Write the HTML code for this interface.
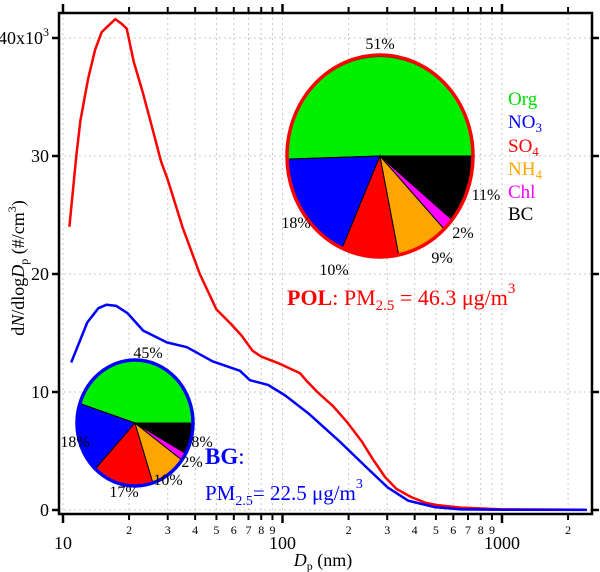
<!DOCTYPE html>
<html><head><meta charset="utf-8"><style>
html,body{margin:0;padding:0;background:#fff}
svg{display:block;font-family:"Liberation Serif",serif}
</style></head><body>
<svg id="chart" width="600" height="572" viewBox="0 0 600 572" xmlns="http://www.w3.org/2000/svg">
<g id="grid"></g>
<g id="series"></g>
<g id="axes"></g>
<g id="pies"></g>
<text transform="translate(24,268) rotate(-90)" text-anchor="middle" font-size="18">d<tspan font-style="italic">N</tspan>/dlog<tspan font-style="italic">D</tspan><tspan font-size="12" dy="4">p</tspan><tspan dy="-4"> (#/cm</tspan><tspan font-size="12" dy="-8">3</tspan><tspan dy="8">)</tspan></text>
<text x="323" y="566" text-anchor="middle" font-size="18"><tspan font-style="italic">D</tspan><tspan font-size="12" dy="4">p</tspan><tspan dy="-4"> (nm)</tspan></text>
<g font-size="19">
<text x="508" y="105" fill="#00e000">Org</text>
<text x="508" y="128" fill="#0000ff">NO<tspan font-size="13" dy="4">3</tspan></text>
<text x="508" y="152" fill="#ff0000">SO<tspan font-size="13" dy="4">4</tspan></text>
<text x="508" y="175" fill="#ffa500">NH<tspan font-size="13" dy="4">4</tspan></text>
<text x="508" y="198" fill="#ff00ff">Chl</text>
<text x="508" y="220" fill="#000">BC</text>
</g>
<text x="287" y="305" font-size="22" fill="#ff0000"><tspan font-weight="bold">POL</tspan>: PM<tspan font-size="15" dy="5">2.5</tspan><tspan dy="-5"> = 46.3 μg/m</tspan><tspan font-size="15" dy="-12">3</tspan></text>
<text x="205" y="464" font-size="23" font-weight="bold" fill="#0000ff">BG<tspan font-weight="normal">:</tspan></text>
<text x="205" y="500" font-size="21" fill="#0000ff">PM<tspan font-size="14" dy="5">2.5</tspan><tspan dy="-5">= 22.5 μg/m</tspan><tspan font-size="14" dy="-12">3</tspan></text>
</svg>
<script>
const redDp = [10.7,11.5,12,13,14,15,16,17.3,18.5,19.5,21,23,25,28,30,35,42,50,58,65,73,80,97,120,128,144,170,198,230,258,293,330,385,450,512,650,1000,2400];
const redN  = [24,30,33,36.5,39,40.5,41,41.6,41.2,40.8,38,35.5,33,29.5,28,24,20,17,15.8,14.8,13.5,13,12.4,11.6,11,10,8.8,7.4,5.8,4.3,2.8,1.8,1.1,0.6,0.4,0.2,0.05,0.02];
const blueDp = [10.9,12.9,14.5,15.8,17.5,19.6,23.2,29.7,36.7,48,64,71,86,103,131,180,248,302,373,494,650,1000,2440];
const blueN  = [12.5,15.9,17.1,17.4,17.3,16.7,15.2,14.2,13.8,12.6,11.8,11,10.6,9.7,8.2,5.9,3.4,1.9,0.8,0.25,0.05,0.02,0.01];
const yTicks = [0,10,20,30,40];
const yTickLabels = ["0","10","20","30","40x10"];
const xMajor = [10,100,1000];
const xMinor = [20,30,40,50,60,70,80,90,200,300,400,500,600,700,800,900,2000];
const xMinorLabels = ["2","3","4","5","6","7","8","9","2","3","4","5","6","7","8","9","2"];
const pieSpecies = ["Org","NO3","SO4","NH4","Chl","BC"];
const pieColors = ["#00ee00","#0000ff","#ff0000","#ffa500","#ff00ff","#000000"];
const polFractions = [51,18,10,9,2,11];
const bgFractions = [45,18,17,10,2,8];

const NS="http://www.w3.org/2000/svg";
const L=59,R=592,T=13,B=514;
function xOf(d){return 63+219.5*Math.log10(d/10);}
function yOf(v){return 510-11.8*v;}
function mk(tag,attrs,parent){const e=document.createElementNS(NS,tag);for(const k in attrs)e.setAttribute(k,attrs[k]);parent.appendChild(e);return e;}
const grid=document.getElementById('grid'),axes=document.getElementById('axes'),series=document.getElementById('series'),pies=document.getElementById('pies');

yTicks.forEach(v=>{const g=mk('line',{x1:L,x2:R,y1:yOf(v),y2:yOf(v),stroke:'#c8c8c8','stroke-dasharray':'2,3','stroke-width':1},grid);

});
xMajor.concat(xMinor).forEach(d=>{const g=mk('line',{x1:xOf(d),x2:xOf(d),y1:T,y2:B,stroke:'#c8c8c8','stroke-dasharray':'2,3','stroke-width':1},grid);

});

function line(dp,n,color,name){const d=dp.map((x,i)=>(i?'L':'M')+xOf(x).toFixed(1)+','+yOf(n[i]).toFixed(1)).join('');
const p=mk('path',{d:d,fill:'none',stroke:color,'stroke-width':2.5,'stroke-linejoin':'round'},series);

}
line(redDp,redN,'#ff0000','pol-size-distribution-line');
line(blueDp,blueN,'#0000ff','bg-size-distribution-line');

const fr=mk('rect',{x:L,y:T,width:R-L,height:B-T,fill:'none',stroke:'#000','stroke-width':2.5},axes);


yTicks.forEach((v,i)=>{
 mk('line',{x1:L-7,x2:L,y1:yOf(v),y2:yOf(v),stroke:'#000','stroke-width':2.5},axes);
 mk('line',{x1:R,x2:R+7,y1:yOf(v),y2:yOf(v),stroke:'#000','stroke-width':2.5},axes);
 const t=mk('text',{x:L-10,y:yOf(v)+6,'text-anchor':'end','font-size':18},axes);
 
 
 t.textContent=yTickLabels[i];
 if(i===yTickLabels.length-1){const s=mk('tspan',{'font-size':12,dy:-8},t);s.textContent='3';}
});
xMajor.forEach(d=>{
 mk('line',{x1:xOf(d),x2:xOf(d),y1:B,y2:B+9,stroke:'#000','stroke-width':2.5},axes);
 mk('line',{x1:xOf(d),x2:xOf(d),y1:T-9,y2:T,stroke:'#000','stroke-width':2.5},axes);
 const t=mk('text',{x:xOf(d),y:B+35,'text-anchor':'middle','font-size':18},axes);
 
 
 t.textContent=String(d);
});
xMinor.forEach((d,i)=>{
 mk('line',{x1:xOf(d),x2:xOf(d),y1:B,y2:B+6,stroke:'#000','stroke-width':2},axes);
 mk('line',{x1:xOf(d),x2:xOf(d),y1:T-6,y2:T,stroke:'#000','stroke-width':2},axes);
 const t=mk('text',{x:xOf(d),y:B+20,'text-anchor':'middle','font-size':12},axes);
 
 
 t.textContent=xMinorLabels[i];
});

function pie(cx,cy,rx,ry,fr,border,name,labels){
 const g=mk('g',{},pies);
 
 
 const tot=fr.reduce((a,b)=>a+b,0);let a0=0;
 fr.forEach((f,i)=>{const a1=a0+f/tot*2*Math.PI;
  const x0=cx+rx*Math.cos(a0),y0=cy-ry*Math.sin(a0),x1=cx+rx*Math.cos(a1),y1=cy-ry*Math.sin(a1);
  const large=(a1-a0)>Math.PI?1:0;
  const p=mk('path',{d:`M${cx},${cy}L${x0.toFixed(1)},${y0.toFixed(1)}A${rx},${ry} 0 ${large} 0 ${x1.toFixed(1)},${y1.toFixed(1)}Z`,fill:pieColors[i],stroke:'#000','stroke-width':1},g);
  
  
  a0=a1;});
 mk('ellipse',{cx:cx,cy:cy,rx:rx,ry:ry,fill:'none',stroke:border,'stroke-width':3.5},g);
 labels.forEach((l,i)=>{const t=mk('text',{x:l[0],y:l[1],'text-anchor':'middle','font-size':16},g);
  
  
  t.textContent=fr[i]+'%';});
}
pie(380,156,93,101,polFractions,'#ff0000','pol-pie',[[380,49],[296,228],[334,275],[442,263],[463,238],[486,200]]);
pie(135,423,58,63,bgFractions,'#0000ff','bg-pie',[[148,358],[75,447],[124,497],[168,485],[192,467],[202,447]]);
</script>
</body></html>
